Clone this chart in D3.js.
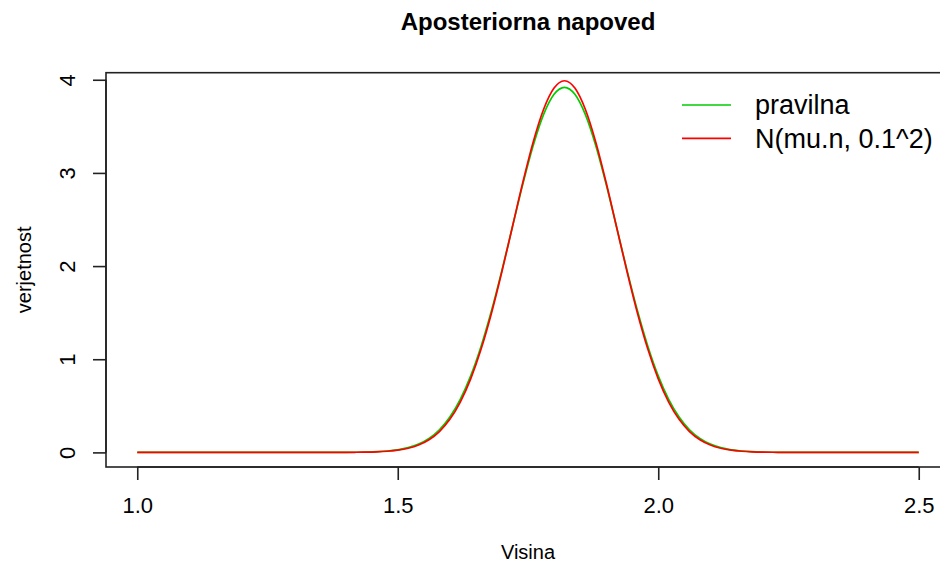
<!DOCTYPE html>
<html>
<head>
<meta charset="utf-8">
<script src="https://cdn.jsdelivr.net/npm/d3@7"></script>
<style>
  html, body { margin: 0; padding: 0; background: #fff; }
  svg { display: block; font-family: "Liberation Sans", Arial, Helvetica, sans-serif; }
</style>
</head>
<body>
<svg id="chart" width="940" height="565"></svg>
<script>
// Grid of heights (Visina) where the densities are tabulated
const visina = [1.00, 1.20, 1.30, 1.40,
  1.42, 1.44, 1.46, 1.48, 1.50, 1.52, 1.54, 1.56, 1.58, 1.60,
  1.62, 1.64, 1.66, 1.68, 1.70, 1.72, 1.74, 1.76, 1.78, 1.80,
  1.82,
  1.84, 1.86, 1.88, 1.90, 1.92, 1.94, 1.96, 1.98, 2.00, 2.02,
  2.04, 2.06, 2.08, 2.10, 2.12, 2.14, 2.16, 2.18, 2.20, 2.22,
  2.24, 2.30, 2.40, 2.50];

// Exact posterior predictive density ("pravilna")
const pravilna = [0.0000, 0.0000, 0.0000, 0.0008,
  0.0017, 0.0037, 0.0075, 0.0148, 0.0280, 0.0510, 0.0892, 0.1502, 0.2433, 0.3794,
  0.5689, 0.8209, 1.1396, 1.5222, 1.9563, 2.4190, 2.8779, 3.2941, 3.6278, 3.8441,
  3.9190,
  3.8441, 3.6278, 3.2941, 2.8779, 2.4190, 1.9563, 1.5222, 1.1396, 0.8209, 0.5689,
  0.3794, 0.2433, 0.1502, 0.0892, 0.0510, 0.0280, 0.0148, 0.0075, 0.0037, 0.0017,
  0.0008, 0.0000, 0.0000, 0.0000];

// Normal approximation N(mu.n, 0.1^2)
const normalna = [0.0000, 0.0000, 0.0000, 0.0006,
  0.0013, 0.0029, 0.0061, 0.0123, 0.0238, 0.0443, 0.0792, 0.1358, 0.2239, 0.3547,
  0.5399, 0.7895, 1.1092, 1.4973, 1.9419, 2.4197, 2.8969, 3.3322, 3.6827, 3.9104,
  3.9894,
  3.9104, 3.6827, 3.3322, 2.8969, 2.4197, 1.9419, 1.4973, 1.1092, 0.7895, 0.5399,
  0.3547, 0.2239, 0.1358, 0.0792, 0.0443, 0.0238, 0.0123, 0.0061, 0.0029, 0.0013,
  0.0006, 0.0000, 0.0000, 0.0000];

const xTicks = [1.0, 1.5, 2.0, 2.5];
const yTicks = [0, 1, 2, 3, 4];
const legendLabels = ["pravilna", "N(mu.n, 0.1^2)"];
const seriesColors = ["#00cd00", "#ff0000"];

const svg = d3.select("#chart");

// Plot region (axis ranges padded by 4% as in base graphics)
const xmin = d3.min(visina), xmax = d3.max(visina);
const ymin = 0, ymax = d3.max(pravilna);
const xpad = (xmax - xmin) * 0.04, ypad = (ymax - ymin) * 0.04;
const plot = { left: 106, top: 72.7, right: 950, bottom: 467 };

const x = d3.scaleLinear().domain([xmin - xpad, xmax + xpad]).range([plot.left, plot.right]);
const y = d3.scaleLinear().domain([ymin - ypad, ymax + ypad]).range([plot.bottom, plot.top]);

const labelFont = 20;
const tickFont = 22;

// Title
svg.append("text")
  .attr("x", (plot.left + plot.right) / 2)
  .attr("y", 29.5)
  .attr("text-anchor", "middle")
  .attr("font-weight", "bold")
  .attr("font-size", 24)
  .attr("fill", "#000")
  .text("Aposteriorna napoved");

// Curves
const line = (vals) => d3.line()
  .x((d, i) => x(visina[i]))
  .y(d => y(d))
  .curve(d3.curveMonotoneX)(vals);

svg.append("path")
  .attr("d", line(pravilna))
  .attr("fill", "none")
  .attr("stroke", seriesColors[0])
  .attr("stroke-width", 1.7);

svg.append("path")
  .attr("d", line(normalna))
  .attr("fill", "none")
  .attr("stroke", seriesColors[1])
  .attr("stroke-width", 1.7);

// Box around the plot region
svg.append("rect")
  .attr("x", plot.left)
  .attr("y", plot.top)
  .attr("width", plot.right - plot.left)
  .attr("height", plot.bottom - plot.top)
  .attr("fill", "none")
  .attr("stroke", "#222")
  .attr("stroke-width", 1.6);

// X axis
const xAxis = svg.append("g")
  .attr("transform", `translate(0,${plot.bottom})`)
  .call(d3.axisBottom(x).tickValues(xTicks).tickFormat(d3.format(".1f"))
    .tickSize(13).tickSizeOuter(0).tickPadding(17));
xAxis.select(".domain").remove();
xAxis.append("line")
  .attr("x1", x(xTicks[0])).attr("x2", x(xTicks[xTicks.length - 1]))
  .attr("stroke", "#222").attr("stroke-width", 1.6);
xAxis.selectAll(".tick line").attr("stroke", "#222").attr("stroke-width", 1.6);
xAxis.selectAll(".tick text")
  .attr("font-size", tickFont)
  .attr("font-family", "Liberation Sans, Arial, sans-serif")
  .attr("fill", "#000");

// Y axis
const yAxis = svg.append("g")
  .attr("transform", `translate(${plot.left},0)`)
  .call(d3.axisLeft(y).tickValues(yTicks).tickFormat(d3.format("d"))
    .tickSize(13).tickSizeOuter(0));
yAxis.select(".domain").remove();
yAxis.append("line")
  .attr("y1", y(yTicks[0])).attr("y2", y(yTicks[yTicks.length - 1]))
  .attr("stroke", "#222").attr("stroke-width", 1.6);
yAxis.selectAll(".tick line").attr("stroke", "#222").attr("stroke-width", 1.6);
yAxis.selectAll(".tick text")
  .attr("font-size", tickFont)
  .attr("font-family", "Liberation Sans, Arial, sans-serif")
  .attr("fill", "#000")
  .attr("x", null)
  .attr("text-anchor", "middle")
  .attr("transform", "translate(-38.5,0) rotate(-90)")
  .attr("y", 0)
  .attr("dy", "0.36em");

// Axis titles
svg.append("text")
  .attr("x", (plot.left + plot.right) / 2)
  .attr("y", 559)
  .attr("text-anchor", "middle")
  .attr("font-size", labelFont)
  .attr("fill", "#000")
  .text("Visina");

svg.append("text")
  .attr("transform", `translate(31,${(plot.top + plot.bottom) / 2}) rotate(-90)`)
  .attr("text-anchor", "middle")
  .attr("font-size", labelFont)
  .attr("fill", "#000")
  .text("verjetnost");

// Legend (no frame)
const legend = svg.append("g");
const legendY = [105, 138.3];
legendLabels.forEach((lab, i) => {
  legend.append("line")
    .attr("x1", 682).attr("x2", 731)
    .attr("y1", legendY[i]).attr("y2", legendY[i])
    .attr("stroke", seriesColors[i])
    .attr("stroke-width", 1.7);
  legend.append("text")
    .attr("x", 755)
    .attr("y", legendY[i])
    .attr("dy", "0.35em")
    .attr("font-size", 27)
    .attr("fill", "#000")
    .text(lab);
});
</script>
</body>
</html>
